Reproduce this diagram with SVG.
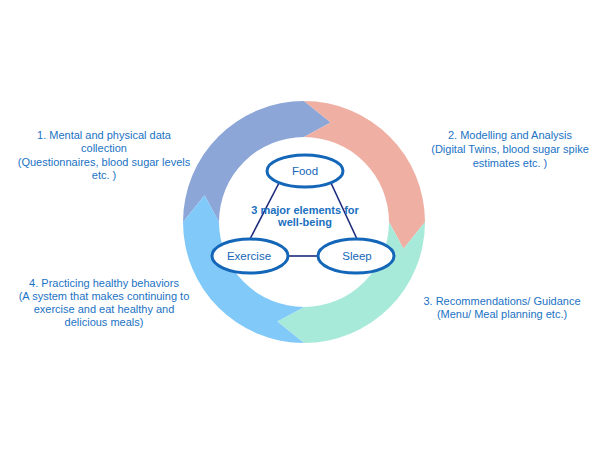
<svg xmlns="http://www.w3.org/2000/svg" width="600" height="450" viewBox="0 0 600 450">
<style>
.lbl{font-family:"Liberation Sans",Arial,sans-serif;font-size:11px;fill:#1A72C4;text-anchor:middle}
.node{fill:#fff;stroke:#1466B8;stroke-width:3}
.ntxt{font-family:"Liberation Sans",Arial,sans-serif;font-size:11.5px;fill:#1466B8;text-anchor:middle}
.ctr{font-family:"Liberation Sans",Arial,sans-serif;font-size:11px;font-weight:bold;fill:#1A6FC0;text-anchor:middle}
.edge{stroke:#1C2A7C;stroke-width:1.6;fill:none}
</style>
<rect width="600" height="450" fill="#fff"/>
<g id="ring">
<path id="seg1" fill="#8CA6D8" d="M183,222 A121,121 0 0 1 304,101 L330.7,122.5 L304,137 A85,85 0 0 0 219,222 L204.5,195.3 Z"/>
<path id="seg2" fill="#EFAFA2" d="M304,101 A121,121 0 0 1 425,222 L403.5,248.7 L389,222 A85,85 0 0 0 304,137 L330.7,122.5 Z"/>
<path id="seg3" fill="#A8EADA" d="M425,222 A121,121 0 0 1 304,343 L277.3,321.5 L304,307 A85,85 0 0 0 389,222 L403.5,248.7 Z"/>
<path id="seg4" fill="#80C9F8" d="M304,343 A121,121 0 0 1 183,222 L204.5,195.3 L219,222 A85,85 0 0 0 304,307 L277.3,321.5 Z"/>
</g>
<g id="connectors">
<line class="edge" x1="279" y1="183" x2="250" y2="239"/>
<line class="edge" x1="331" y1="183" x2="357" y2="239"/>
<line class="edge" x1="288" y1="256" x2="318" y2="256"/>
</g>
<text class="ctr" x="305" y="214">3 major elements for</text>
<text class="ctr" x="305" y="226">well-being</text>
<g id="food"><ellipse class="node" cx="305" cy="171" rx="38" ry="16"/><text class="ntxt" x="305" y="175">Food</text></g>
<g id="exercise"><ellipse class="node" cx="250" cy="256" rx="38" ry="17"/><text class="ntxt" x="249" y="260">Exercise</text></g>
<g id="sleep"><ellipse class="node" cx="356" cy="256" rx="38" ry="17"/><text class="ntxt" x="357" y="260">Sleep</text></g>
<g id="label1">
<text class="lbl" x="104" y="139">1. Mental and physical data</text>
<text class="lbl" x="104" y="152">collection</text>
<text class="lbl" x="104" y="166">(Questionnaires, blood sugar levels</text>
<text class="lbl" x="104" y="179">etc. )</text>
</g>
<g id="label2">
<text class="lbl" x="510" y="139">2. Modelling and Analysis</text>
<text class="lbl" x="510" y="153">(Digital Twins, blood sugar spike</text>
<text class="lbl" x="510" y="167">estimates etc. )</text>
</g>
<g id="label3">
<text class="lbl" x="502" y="305">3. Recommendations/ Guidance</text>
<text class="lbl" x="502" y="318">(Menu/ Meal planning etc.)</text>
</g>
<g id="label4">
<text class="lbl" x="104" y="287">4. Practicing healthy behaviors</text>
<text class="lbl" x="104" y="300">(A system that makes continuing to</text>
<text class="lbl" x="104" y="313">exercise and eat healthy and</text>
<text class="lbl" x="104" y="326">delicious meals)</text>
</g>
</svg>
